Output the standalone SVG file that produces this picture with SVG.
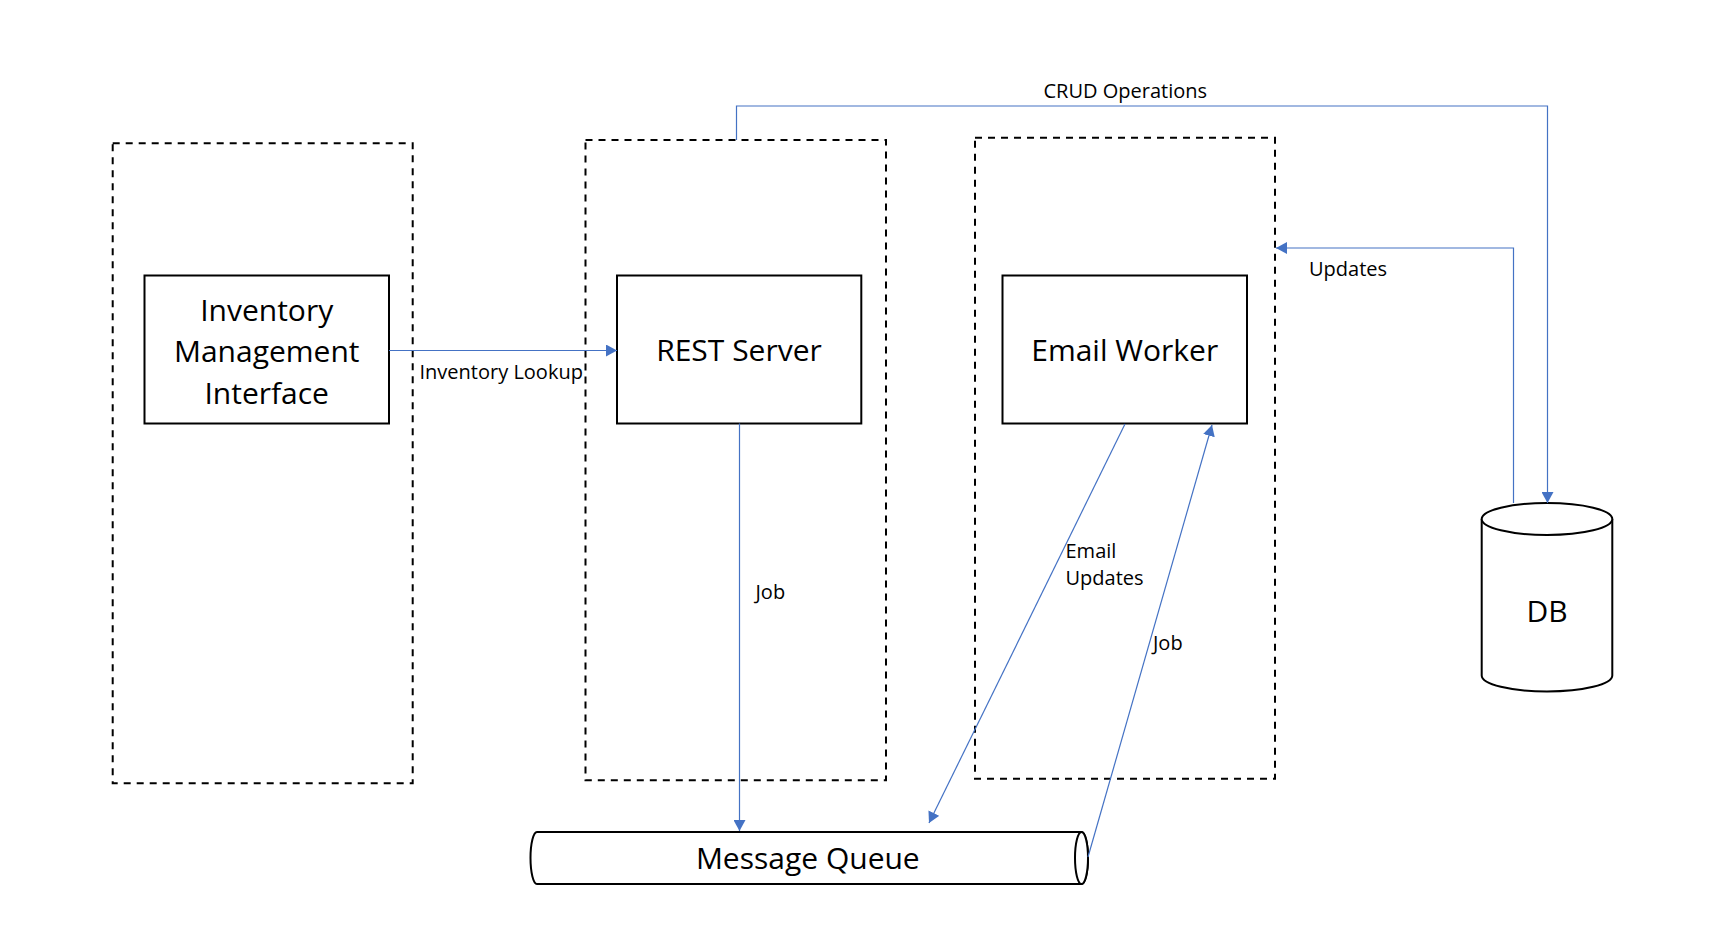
<svg xmlns="http://www.w3.org/2000/svg" width="1716" height="942" viewBox="0 0 1716 942">
<style>
.grp{fill:none;stroke:#000;stroke-width:2;stroke-dasharray:7 6}
.box{fill:#fff;stroke:#000;stroke-width:2}
.shape{fill:#fff;stroke:#000;stroke-width:2}
.lbl{font-family:"Open Sans","Noto Sans",sans-serif;font-size:30px;fill:#000;text-anchor:middle}
.elbl{font-family:"Open Sans","Noto Sans",sans-serif;font-size:20px;fill:#000}
.conn{fill:none;stroke:#4472C4;stroke-width:1.2}
</style>
<defs>
<marker id="arr" markerUnits="userSpaceOnUse" markerWidth="11" markerHeight="12" refX="11" refY="6" orient="auto">
<path d="M0,0 L11,6 L0,12 Z" fill="#4472C4"/>
</marker>
</defs>
<rect width="1716" height="942" fill="#fff"/>
<g id="group-ui"><rect class="grp" x="112.7" y="143.3" width="300" height="640"/></g>
<g id="group-rest"><rect class="grp" x="585.5" y="140" width="300.5" height="640.3"/></g>
<g id="group-email"><rect class="grp" x="975" y="137.8" width="300" height="641"/></g>
<g id="node-imi">
<rect class="box" x="144.5" y="275.5" width="244.5" height="148"/>
<text class="lbl" x="266.7" y="320.5">Inventory</text>
<text class="lbl" x="266.7" y="362.2">Management</text>
<text class="lbl" x="266.7" y="403.8">Interface</text>
</g>
<g id="node-rest">
<rect class="box" x="617" y="275.5" width="244.3" height="148"/>
<text class="lbl" x="739" y="361">REST Server</text>
</g>
<g id="node-email">
<rect class="box" x="1002.5" y="275.5" width="244.5" height="148"/>
<text class="lbl" x="1124.7" y="361">Email Worker</text>
</g>
<g id="node-db">
<path class="shape" d="M1481.7,519 A65.3,16 0 0 1 1612.3,519 V675.5 A65.3,16 0 0 1 1481.7,675.5 Z"/>
<path class="shape" fill="none" d="M1481.7,519 A65.3,16 0 0 0 1612.3,519"/>
<text class="lbl" x="1547" y="621.5">DB</text>
</g>
<g id="node-mq">
<path class="shape" d="M537,832 H1081.5 A6.5,26 0 0 1 1081.5,884 H537 A6.5,26 0 0 1 537,832 Z"/>
<ellipse class="shape" cx="1081.5" cy="858" rx="6.5" ry="26"/>
<text class="lbl" x="807.8" y="869">Message Queue</text>
</g>
<g id="connectors">
<path class="conn" d="M389,350.5 H617" marker-end="url(#arr)"/>
<path class="conn" d="M739.5,423.5 V831" marker-end="url(#arr)"/>
<path class="conn" d="M736.5,140 V106 H1547.5 V503" marker-end="url(#arr)"/>
<path class="conn" d="M1513.5,503 V248 H1276" marker-end="url(#arr)"/>
<path class="conn" d="M1125,424 L929,823" marker-end="url(#arr)"/>
<path class="conn" d="M1088,857 L1212,425" marker-end="url(#arr)"/>
<text class="elbl" x="419.5" y="379">Inventory Lookup</text>
<text class="elbl" x="1043.5" y="98">CRUD Operations</text>
<text class="elbl" x="1309" y="275.8">Updates</text>
<text class="elbl" x="755.5" y="599">Job</text>
<text class="elbl" x="1065.5" y="557.5">Email</text>
<text class="elbl" x="1065.5" y="585">Updates</text>
<text class="elbl" x="1153" y="650">Job</text>
</g>
</svg>
